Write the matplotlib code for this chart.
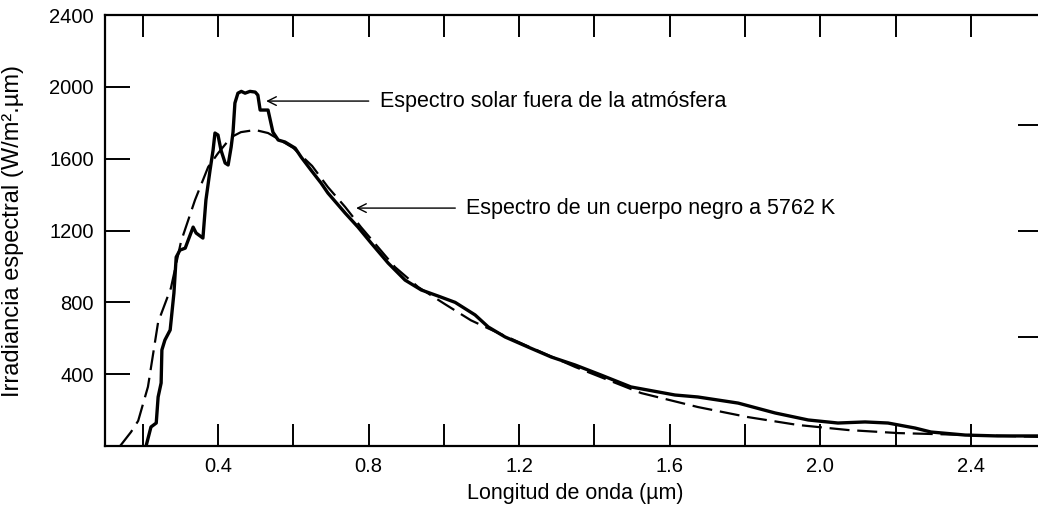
import numpy as np
import matplotlib.pyplot as plt

plt.rcParams['font.family'] = ['Liberation Sans', 'DejaVu Sans']

# espectro solar fuera de la atmosfera
x_sol = [0.209, 0.222, 0.236, 0.241, 0.249, 0.251, 0.259, 0.273, 0.283, 0.289,
         0.299, 0.313, 0.321, 0.334, 0.342, 0.360, 0.368, 0.379, 0.387, 0.392,
         0.400, 0.408, 0.419, 0.427, 0.435, 0.440, 0.445, 0.453, 0.462, 0.472,
         0.485, 0.499, 0.506, 0.512, 0.533, 0.546, 0.560, 0.578, 0.605, 0.621,
         0.647, 0.674, 0.692, 0.738, 0.772, 0.807, 0.852, 0.897, 0.940, 0.985,
         1.030, 1.083, 1.118, 1.163, 1.224, 1.285, 1.349, 1.418, 1.497, 1.614,
         1.675, 1.782, 1.880, 1.968, 2.047, 2.119, 2.180, 2.252, 2.294, 2.385,
         2.472, 2.600]
y_sol = [0, 106, 128, 273, 351, 535, 590, 646, 852, 1052,
         1091, 1102, 1147, 1219, 1186, 1158, 1370, 1537, 1648, 1743,
         1732, 1648, 1576, 1565, 1665, 1748, 1910, 1965, 1975, 1965,
         1975, 1971, 1954, 1871, 1871, 1748, 1704, 1693, 1659, 1609,
         1537, 1464, 1409, 1297, 1219, 1130, 1019, 924, 869, 835,
         800, 730, 663, 607, 551, 496, 451, 395, 329, 284,
         273, 239, 184, 145, 128, 134, 128, 100, 78, 61,
         56, 56]

# espectro de un cuerpo negro a 5762 K
x_bb = [0.140, 0.169, 0.188, 0.214, 0.241, 0.275, 0.302, 0.339, 0.374, 0.400,
        0.435, 0.461, 0.499, 0.533, 0.560, 0.600, 0.650, 0.692, 0.738, 0.780,
        0.825, 0.870, 0.932, 1.003, 1.072, 1.118, 1.224, 1.349, 1.524, 1.675,
        1.808, 1.941, 2.074, 2.207, 2.294, 2.600]
y_bb = [0, 78, 140, 330, 690, 880, 1140, 1370, 1554, 1630,
        1720, 1748, 1760, 1743, 1710, 1660, 1560, 1442, 1331, 1219,
        1108, 997, 885, 790, 700, 655, 555, 440, 295, 217,
        161, 117, 89, 72, 67, 50]

x_ticks = [0.2, 0.4, 0.6, 0.8, 1.0, 1.2, 1.4, 1.6, 1.8, 2.0, 2.2, 2.4]
x_labels = ['', '0.4', '', '0.8', '', '1.2', '', '1.6', '', '2.0', '', '2.4']
y_ticks = [400, 800, 1200, 1600, 2000, 2400]
y_right_ticks = [605, 1200, 1790]

fig = plt.figure(figsize=(10.38, 5.07), dpi=100)
ax = fig.add_axes([0.1012, 0.1203, 0.9066, 0.850])

ax.plot(x_sol, y_sol, color='black', lw=2.4, solid_joinstyle='round')
ax.plot(x_bb, y_bb, color='black', lw=1.6, dashes=(9, 3.5))

ax.set_xlim(0.1, 2.6)
ax.set_ylim(0, 2400)
ax.set_xticks(x_ticks)
ax.set_xticklabels(x_labels)
ax.set_yticks(y_ticks)
ax.tick_params(axis='x', direction='in', length=16, width=1.4, top=True,
               labelsize=14.5, pad=8)
ax.tick_params(axis='y', direction='in', length=18, width=1.4,
               labelsize=14.5, pad=8)
for s in ax.spines.values():
    s.set_linewidth(1.6)

ax2 = ax.twinx()
ax2.set_ylim(0, 2400)
ax2.set_yticks(y_right_ticks)
ax2.set_yticklabels([])
ax2.tick_params(axis='y', direction='in', length=20, width=1.4)
for s in ax2.spines.values():
    s.set_visible(False)

ax.set_xlabel('Longitud de onda (µm)', fontsize=15.5, labelpad=5)
ax.set_ylabel('Irradiancia espectral (W/m².µm)', fontsize=17)
ax.yaxis.set_label_coords(-0.086, 0.5)

ax.annotate('Espectro solar fuera de la atmósfera', xy=(0.528, 1921),
            xytext=(0.83, 1921), fontsize=15.5, va='center',
            arrowprops=dict(arrowstyle='->', lw=1.0, color='black',
                            shrinkA=6, shrinkB=0))
ax.annotate('Espectro de un cuerpo negro a 5762 K', xy=(0.767, 1325),
            xytext=(1.06, 1325), fontsize=15.5, va='center',
            arrowprops=dict(arrowstyle='->', lw=1.0, color='black',
                            shrinkA=6, shrinkB=0))

fig.savefig('out.png', dpi=100)
